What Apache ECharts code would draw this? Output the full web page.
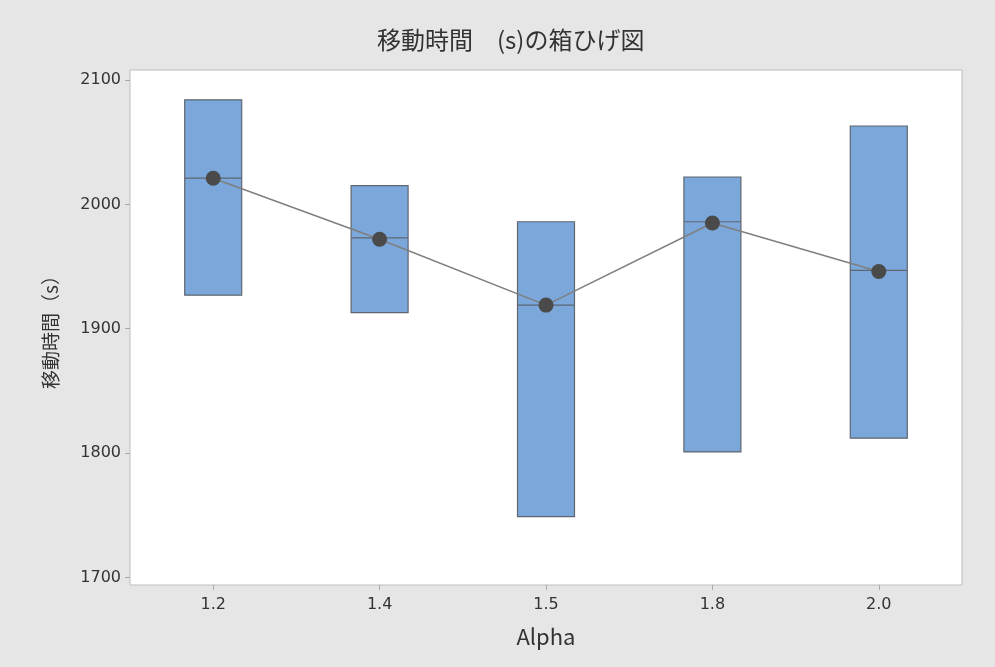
<!DOCTYPE html>
<html>
<head>
<meta charset="utf-8">
<script src="https://cdn.jsdelivr.net/npm/echarts@6/dist/echarts.min.js"></script>
<style>
  html, body { margin: 0; padding: 0; background: #e6e6e6; }
  #chart { width: 995px; height: 667px; }
</style>
</head>
<body>
<div id="chart"></div>
<script>
// Alpha levels and the travel-time box summaries (seconds)
const categories = ['1.2', '1.4', '1.5', '1.8', '2.0'];
const q1Values     = [1927, 1913, 1749, 1801, 1812];
const medianValues = [2021, 1973, 1919, 1986, 1947];
const q3Values     = [2084, 2015, 1986, 2022, 2063];
const meanValues   = [2021, 1972, 1919, 1985, 1946];
const yTickLabels  = [1700, 1800, 1900, 2000, 2100];

// No whiskers are shown, so the whisker ends sit on the box edges
const boxData = categories.map((c, i) => [q1Values[i], q1Values[i], medianValues[i], q3Values[i], q3Values[i]]);

const font = '"Noto Sans CJK JP", "Noto Sans", sans-serif';
const numFont = '"DejaVu Sans", sans-serif';
const chart = echarts.init(document.getElementById('chart'));
chart.setOption({
  animation: false,
  backgroundColor: '#e6e6e6',
  title: {
    text: '移動時間　(s)の箱ひげ図',
    left: 372,
    top: 23,
    textStyle: { fontFamily: font, fontSize: 24, fontWeight: 'normal', color: '#333' }
  },
  grid: {
    left: 130, right: 33, top: 70, bottom: 82,
    show: true, backgroundColor: '#ffffff', borderColor: '#bdbdbd', borderWidth: 1
  },
  xAxis: {
    type: 'category',
    data: categories,
    name: 'Alpha',
    nameLocation: 'middle',
    nameGap: 41,
    nameTextStyle: { fontFamily: font, fontSize: 22, color: '#333' },
    axisLine: { show: false },
    axisTick: { show: true, alignWithLabel: true, length: 5, lineStyle: { color: '#aaa' } },
    axisLabel: { fontFamily: numFont, fontSize: 16, color: '#333', margin: 12 },
    splitLine: { show: false }
  },
  yAxis: {
    type: 'value',
    min: 1694,
    max: 2108,
    name: '移動時間（s）',
    nameLocation: 'middle',
    nameGap: 70,
    nameTextStyle: { fontFamily: font, fontSize: 19, color: '#333' },
    axisLine: { show: false },
    axisTick: { show: true, length: 5, lineStyle: { color: '#aaa' }, customValues: yTickLabels },
    axisLabel: {
      fontFamily: numFont, fontSize: 16, color: '#333', margin: 9,
      customValues: yTickLabels,
      formatter: v => String(v)
    },
    splitLine: { show: false }
  },
  series: [
    {
      type: 'boxplot',
      data: boxData,
      boxWidth: [57, 57],
      itemStyle: { color: '#7ba7da', borderColor: '#5f6670', borderWidth: 1.2 },
      emphasis: { disabled: true },
      z: 2
    },
    {
      type: 'line',
      data: meanValues,
      symbol: 'circle',
      symbolSize: 15,
      lineStyle: { color: '#7f7f7f', width: 1.5 },
      itemStyle: { color: '#4a4a4a' },
      z: 3
    }
  ]
});
</script>
</body>
</html>
